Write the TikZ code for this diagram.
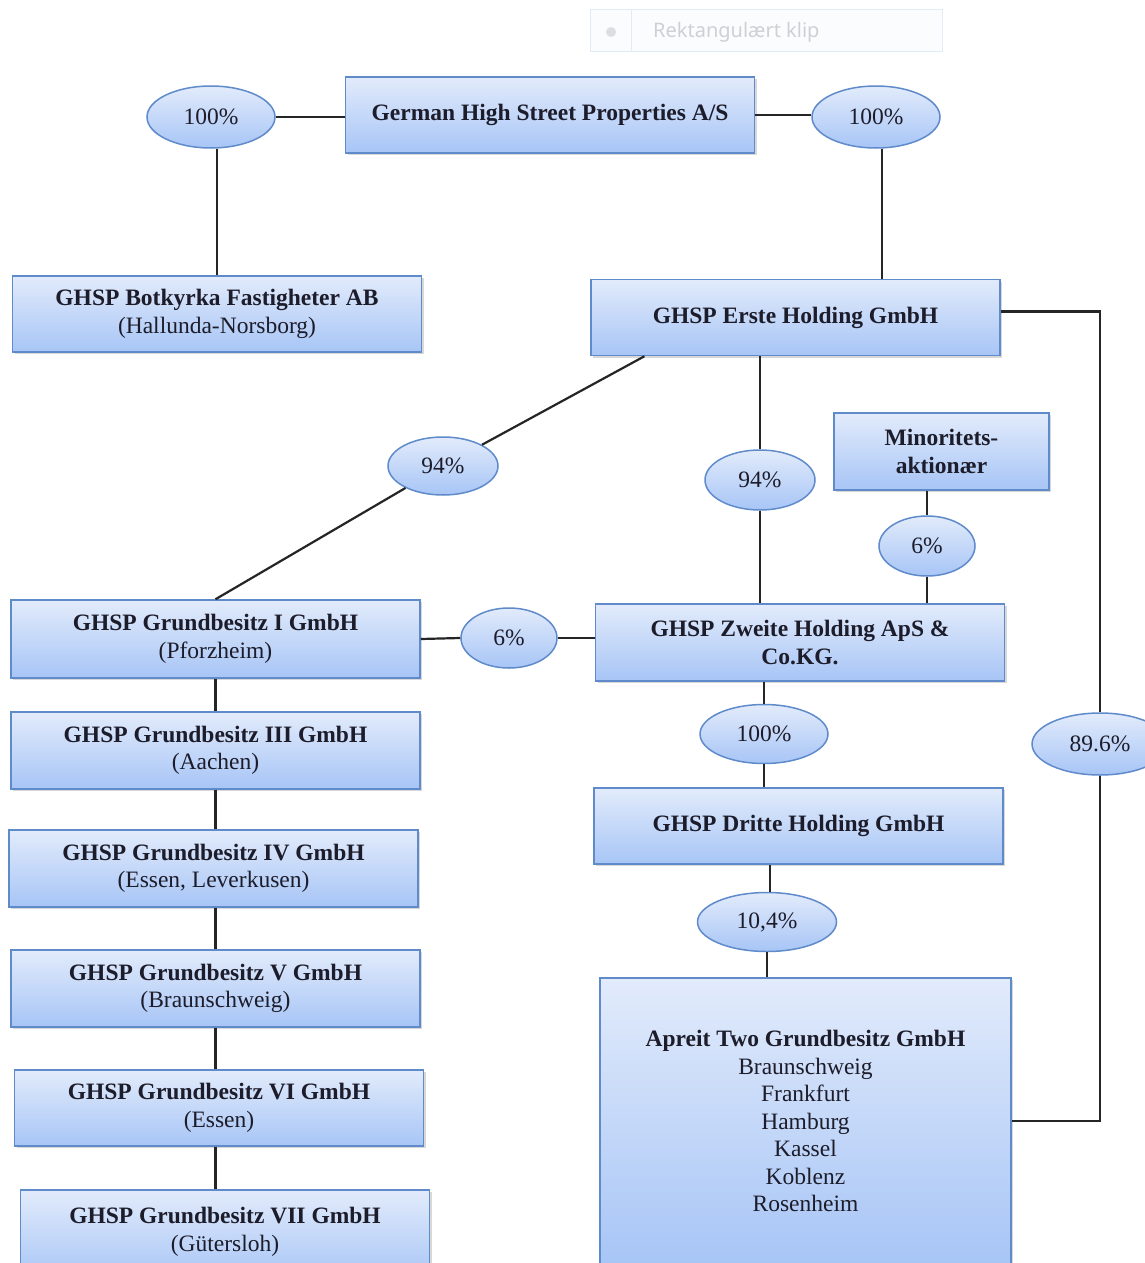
\documentclass[tikz,border=0pt]{standalone}
\usepackage{fontspec}
\setmainfont{Liberation Serif}
\newfontfamily\uifont{Noto Sans}
\usetikzlibrary{shapes.geometric,shadows,calc}
\definecolor{bord}{HTML}{5F8BCB}
\definecolor{ftop}{HTML}{E2EBFB}
\definecolor{fbot}{HTML}{A7C5F6}
\definecolor{ink}{HTML}{1C1C2A}
\definecolor{wirec}{HTML}{252525}
\begin{document}
\begin{tikzpicture}[x=1pt,y=1pt,
  box/.style={draw=bord, line width=1.5pt, top color=ftop, bottom color=fbot,
    minimum width=409pt, minimum height=76pt, inner sep=0pt, align=center,
    font=\fontsize{23.5}{27.5}\selectfont, text=ink,
    drop shadow={opacity=0.3, shadow xshift=2pt, shadow yshift=-2pt}},
  pct/.style={ellipse, draw=bord, line width=1.5pt, top color=ftop, bottom color=fbot,
    inner sep=0pt, font=\fontsize{23.5}{27.5}\selectfont, text=ink},
  wire/.style={draw=wirec, line width=2.2pt}]
\fill[white] (0,0) rectangle (1144,-1263);
\useasboundingbox (0,0) rectangle (1144,-1263);

% faint screen-clip widget
\node (clip) [draw={rgb,255:red,226;green,236;blue,246}, fill={rgb,255:red,251;green,252;blue,254},
  line width=1pt, minimum width=352pt, minimum height=42pt, inner sep=0pt] at (766,-31) {};
\draw[draw={rgb,255:red,226;green,236;blue,246}, line width=1pt] ($(clip.north west)+(42,0)$) coordinate (sepT) -- ($(clip.south west)+(42,0)$) coordinate (sepB);
\node (clipdot) [circle, fill={rgb,255:red,222;green,222;blue,226}, minimum size=10pt, inner sep=0pt] at (611,-32) {};
\node (cliptext) [anchor=west, text={rgb,255:red,208;green,208;blue,212}, font=\uifont\fontsize{20}{24}\selectfont, inner sep=0pt] at (653,-32) {Rektangulært klip};

% boxes
\node (top) [box] at (550,-115) {\textbf{German High Street Properties A/S}};
\node (bot) [box] at (217,-314) {\textbf{GHSP Botkyrka Fastigheter AB}\\(Hallunda-Norsborg)};
\node (erste) [box] at (795.5,-317.5) {\textbf{GHSP Erste Holding GmbH}};
\node (minor) [box, minimum width=215pt, minimum height=77pt] at (941.5,-451.5) {\textbf{Minoritets-}\\\textbf{aktionær}};
\node (zweite) [box, minimum height=77pt] at (800,-642.5) {\textbf{GHSP Zweite Holding ApS \&}\\\textbf{Co.KG.}};
\node (g1) [box, minimum height=78pt] at (215.5,-639) {\textbf{GHSP Grundbesitz I GmbH}\\(Pforzheim)};
\node (g3) [box, minimum height=77pt] at (215.5,-750.5) {\textbf{GHSP Grundbesitz III GmbH}\\(Aachen)};
\node (g4) [box, minimum height=77pt] at (213.5,-868.5) {\textbf{GHSP Grundbesitz IV GmbH}\\(Essen, Leverkusen)};
\node (g5) [box, minimum height=77pt] at (215.5,-988.5) {\textbf{GHSP Grundbesitz V GmbH}\\(Braunschweig)};
\node (g6) [box, minimum height=76pt] at (219,-1108) {\textbf{GHSP Grundbesitz VI GmbH}\\(Essen)};
\node (g7) [box, minimum height=92pt, anchor=north] at (225,-1189) {};
\node (g7t) [align=center, font=\fontsize{23.5}{27.5}\selectfont, text=ink, inner sep=0pt] at (225,-1232) {\textbf{GHSP Grundbesitz VII GmbH}\\(Gütersloh)};
\node (dritte) [box] at (798.5,-826) {\textbf{GHSP Dritte Holding GmbH}};
\node (apreit) [box, minimum width=411pt, minimum height=286pt] at (805.5,-1121)
  {\textbf{Apreit Two Grundbesitz GmbH}\\Braunschweig\\Frankfurt\\Hamburg\\Kassel\\Koblenz\\Rosenheim};

% percentage ellipses
\node (e1) [pct, minimum width=128pt, minimum height=62pt] at (211,-117) {100\%};
\node (e2) [pct, minimum width=128pt, minimum height=62pt] at (876,-117) {100\%};
\node (e3) [pct, minimum width=110pt, minimum height=58pt] at (443,-466) {94\%};
\node (e4) [pct, minimum width=110pt, minimum height=60pt] at (760,-480) {94\%};
\node (e5) [pct, minimum width=96pt, minimum height=60pt] at (927,-546) {6\%};
\node (e6) [pct, minimum width=96pt, minimum height=60pt] at (509,-638) {6\%};
\node (e7) [pct, minimum width=128pt, minimum height=59pt] at (764,-734) {100\%};
\node (e8) [pct, minimum width=139pt, minimum height=59pt] at (767,-922) {10,4\%};
\node (e9) [pct, minimum width=136pt, minimum height=62pt] at (1100,-744) {89.6\%};

% connectors
\draw[wire] (e1.east) -- (e1.east -| top.west);
\draw[wire] (top.east) -- (top.east -| e2.west);
\draw[wire] ($(e1.south)+(6,0)$) coordinate (e1s) -- (e1s |- bot.north);
\draw[wire] ($(e2.south)+(6,0)$) coordinate (e2s) -- (e2s |- erste.north);
\draw[wire] ($(erste.east)+(0,6)$) coordinate (ersteE) -| (e9.north);
\draw[wire] (e9.south) |- (apreit.east);
\coordinate (ersteDiag) at ($(erste.south west)!0.132!(erste.south east)$);
\draw[wire] (ersteDiag) -- (e3);
\draw[wire] (e3) -- (g1.north);
\draw[wire] (e4.north |- erste.south) -- (e4.north);
\draw[wire] (e4.south) -- (e4.south |- zweite.north);
\draw[wire] (e5.north |- minor.south) -- (e5.north);
\draw[wire] (e5.south) -- (e5.south |- zweite.north);
\draw[wire] (g1.east) -- (e6.west);
\draw[wire] (e6.east) -- (e6.east -| zweite.west);
\draw[wire] (e7.north |- zweite.south) -- (e7.north);
\draw[wire] (e7.south) -- (e7.south |- dritte.north);
\draw[wire] ($(e8.north |- dritte.south)+(3,0)$) coordinate (dS) -- (dS |- e8.north);
\draw[wire] (e8.south) -- (e8.south |- apreit.north);
\draw[wire] (g1.south) -- (g1.south |- g3.north);
\draw[wire] (g1.south |- g3.south) -- (g1.south |- g4.north);
\draw[wire] (g1.south |- g4.south) -- (g1.south |- g5.north);
\draw[wire] (g1.south |- g5.south) -- (g1.south |- g6.north);
\draw[wire] (g1.south |- g6.south) -- (g1.south |- g7.north);
\end{tikzpicture}
\end{document}
